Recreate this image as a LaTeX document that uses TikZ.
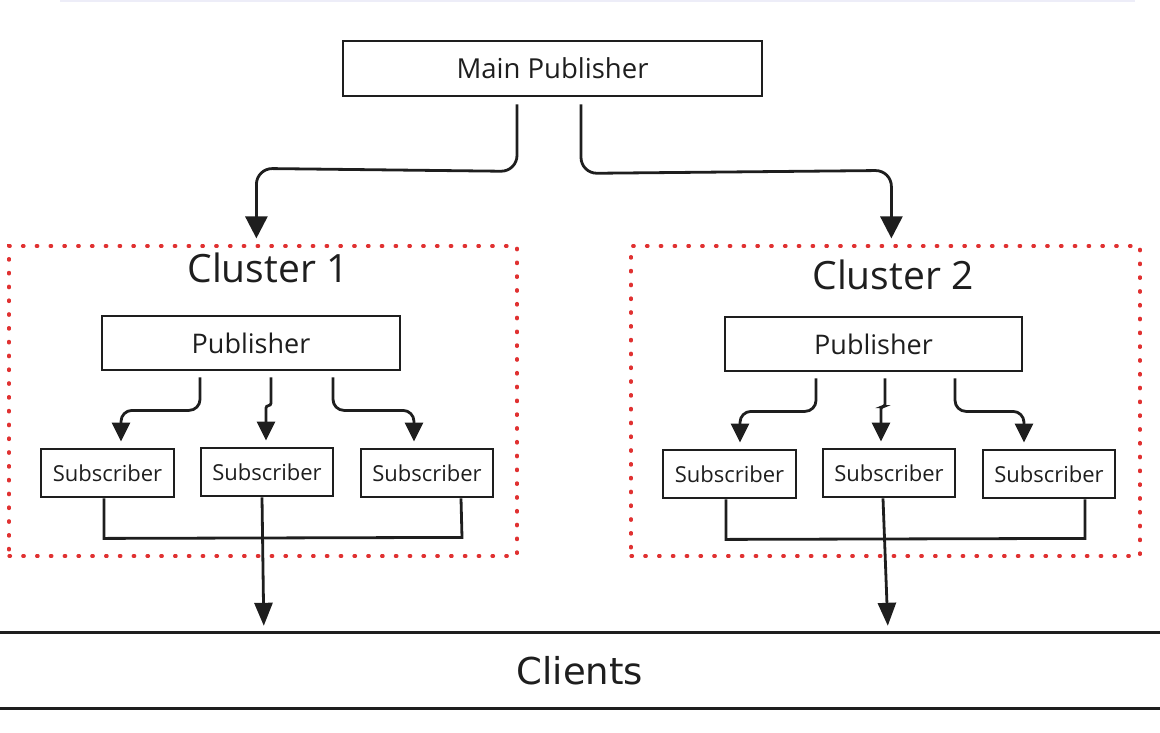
\documentclass[tikz,border=0pt]{standalone}
\usepackage{fontspec}
\setmainfont{Open Sans}
\newfontfamily\clientsfont{DejaVu Sans}
\usetikzlibrary{arrows.meta,calc}
\definecolor{ink}{HTML}{1E1E1E}
\definecolor{dotred}{HTML}{E03131}
\definecolor{topline}{HTML}{EDEDF8}
\begin{document}
\begin{tikzpicture}[x=1pt,y=-1pt,
  box/.style={draw=ink,line width=2.8pt,minimum width=#1,inner sep=0pt,text=ink},
  mainbox/.style={box=419pt,minimum height=55pt,font=\fontsize{27.5}{32}\selectfont},
  pubbox/.style={box=298pt,minimum height=54pt,font=\fontsize{27}{32}\selectfont},
  subbox/.style={box=133pt,minimum height=48pt,font=\fontsize{22}{26}\selectfont},
  cluster/.style={draw=dotred,line width=3.2pt,line cap=round,dash pattern=on 1.5pt off 12.3pt,
    minimum width=508pt,minimum height=310pt,inner sep=0pt},
  clabel/.style={font=\fontsize{39}{46}\selectfont,text=ink,inner sep=0pt},
  conn/.style={draw=ink,line width=2.8pt},
  bigarrow/.style={conn,rounded corners=16pt,-{Triangle[width=22pt,length=22pt]}},
  subarrow/.style={conn,rounded corners=11pt,-{Triangle[width=18pt,length=19pt]}},
  steparrow/.style={conn,rounded corners=2.5pt,-{Triangle[width=18pt,length=19pt]}},
  outarrow/.style={conn,-{Triangle[width=18pt,length=23pt]}},
]
\useasboundingbox (0,0) rectangle (1160,732);
\draw[topline,line width=2pt] (60,0.8) -- (1135,0.8);

% main publisher
\node[mainbox] (mp) at (552.5,68.5) {Main Publisher};

% cluster frames and titles
\node[cluster] (c1) at (263,401) {};
\node[cluster,minimum width=509pt] (c2) at (885.5,401) {};
\node[clabel] (c1t) at (268,268) {Cluster 1};
\node[clabel] (c2t) at (893,275) {Cluster 2};

% cluster publishers
\node[pubbox] (p1) at (251,343) {Publisher};
\node[pubbox,minimum width=297pt] (p2) at (873.5,344) {Publisher};

% subscribers
\node[subbox] (s11) at (107.5,473) {Subscriber};
\node[subbox,minimum width=132pt] (s12) at (267,472) {Subscriber};
\node[subbox,minimum width=132pt] (s13) at (427,473) {Subscriber};
\node[subbox] (s21) at (729.5,474) {Subscriber};
\node[subbox,minimum width=132pt] (s22) at (889,473) {Subscriber};
\node[subbox,minimum width=132pt] (s23) at (1049,474) {Subscriber};

% clients band
\node[minimum width=1160pt,minimum height=75pt,inner sep=0pt,text=ink,
  font=\clientsfont\fontsize{37}{44}\selectfont] (cl) at (580,670.5) {Clients};
\draw[ink,line width=2.8pt] (cl.north west) -- (cl.north east);
\draw[ink,line width=2.8pt] (cl.south west) -- (cl.south east);

% main publisher to clusters
\path[bigarrow] ($(mp.south)+(-35.5,7)$) -- ($(mp.south)+(-35.5,74)$)
  -- ($(c1.north west)+(249,-76)$) -- ($(c1.north west)+(249,-6)$);
\path[bigarrow] ($(mp.south)+(28.5,7)$) -- ($(mp.south)+(28.5,76)$)
  -- ($(c2.north west)+(262,-74)$) -- ($(c2.north west)+(262,-6)$);

% publisher 1 to its subscribers
\path[subarrow] ($(p1.south)+(-51,6)$) -- ($(p1.south)+(-51,39)$)
  -| ($(s11.north)+(13.5,-6)$);
\path[steparrow] ($(p1.south)+(20,6)$) |- ($(s12.north)+(-1,-41)$)
  -- ($(s12.north)+(-1,-6)$);
\path[subarrow] ($(p1.south)+(82,6)$) -- ($(p1.south)+(82,39)$)
  -| ($(s13.north)+(-13,-6)$);

% publisher 2 to its subscribers
\path[subarrow] ($(p2.south)+(-57.5,6)$) -- ($(p2.south)+(-57.5,39)$)
  -| ($(s21.north)+(10.5,-6)$);
\path[steparrow] ($(p2.south)+(11.5,6)$) |- ($(s22.north)+(-8,-41)$)
  -- ($(s22.north)+(-8,-6)$);
\path[subarrow] ($(p2.south)+(81.5,6)$) -- ($(p2.south)+(81.5,39)$)
  -| ($(s23.north)+(-25,-6)$);

% subscriber joins
\path[conn] ($(s11.south)+(-3.5,0)$) -- ($(s11.south)+(-3.5,40)$)
  -- ($(s13.south)+(35,39)$) -- ($(s13.south)+(34,0)$);
\path[conn] ($(s21.south)+(-3.5,0)$) -- ($(s21.south)+(-3.5,40)$)
  -- ($(s23.south)+(36,39)$) -- ($(s23.south)+(36,0)$);

% subscribers to clients
\path[outarrow] ($(s12.south)+(-5,0)$) -- ($(cl.north west)+(264,-7)$);
\path[outarrow] ($(s22.south)+(-6,0)$) -- ($(cl.north west)+(888,-7)$);
\end{tikzpicture}
\end{document}
